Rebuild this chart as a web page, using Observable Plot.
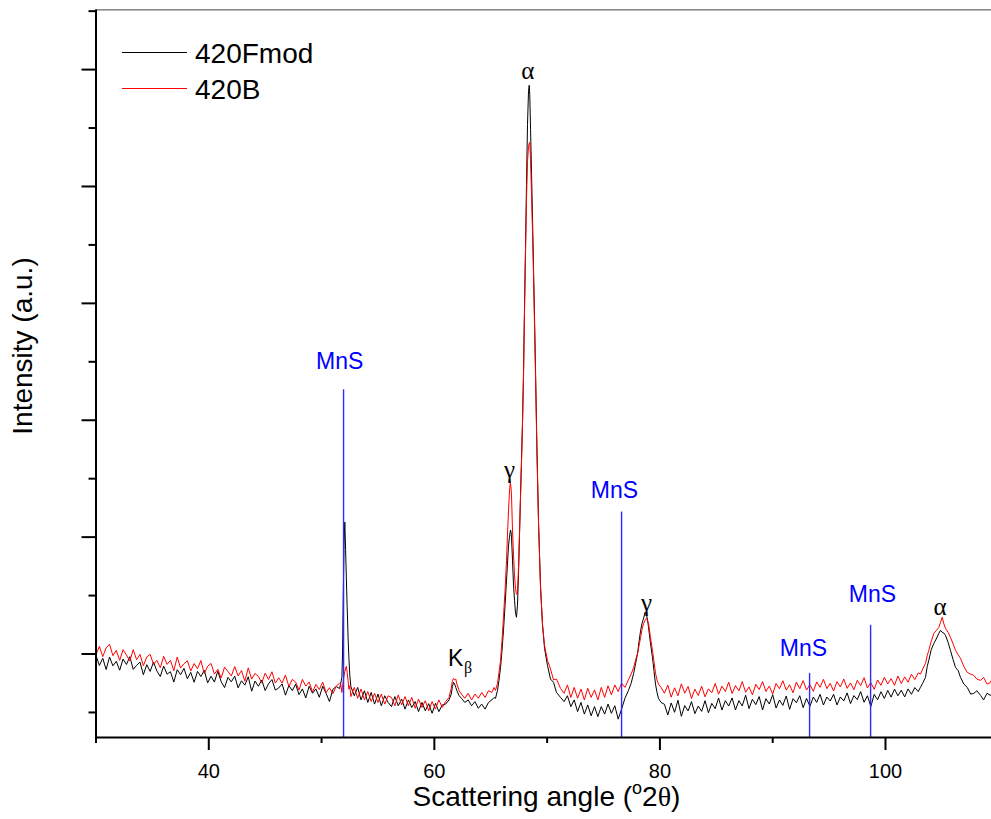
<!DOCTYPE html>
<html><head><meta charset="utf-8">
<script src="https://cdn.jsdelivr.net/npm/d3@7"></script>
<script src="https://cdn.jsdelivr.net/npm/@observablehq/plot@0.6"></script>
<style>
body{margin:0;background:#fff;}
#chart{width:991px;height:819px;}
</style>
</head><body><div id="chart"></div>
<script>
// Scattering angle (°2θ) sampling
const angle = [
 30.0,30.3,30.6,30.9,31.2,31.5,31.8,32.1,32.4,32.7,
 33.0,33.3,33.6,33.9,34.2,34.5,34.8,35.1,35.4,35.7,
 36.0,36.3,36.6,36.9,37.2,37.5,37.8,38.1,38.4,38.7,
 39.0,39.3,39.6,39.9,40.2,40.5,40.8,41.1,41.4,41.7,
 42.0,42.3,42.6,42.9,43.2,43.5,43.8,44.1,44.4,44.7,
 45.0,45.3,45.6,45.9,46.2,46.5,46.8,47.1,47.4,47.7,
 48.0,48.3,48.6,48.9,49.2,49.5,49.8,50.1,50.4,50.7,
 51.0,51.3,51.6,
 51.7,51.8,51.86,51.92,51.99,52.06,52.13,52.2,52.27,52.35,52.42,52.5,
 52.6,52.9,53.2,53.5,53.8,54.1,54.4,54.7,55.0,55.3,
 55.6,55.9,56.2,56.5,56.8,57.1,57.4,57.7,58.0,58.3,
 58.6,58.9,59.2,59.5,59.8,60.1,60.4,60.7,61.0,61.3,
 61.5,61.6,61.7,61.8,61.9,62.0,62.2,62.4,62.7,63.0,63.3,63.6,63.9,64.2,64.5,64.8,65.1,65.3,
 65.42,65.6,65.73,65.87,66.0,66.13,66.27,66.4,66.5,66.58,
 66.66,66.71,66.75,66.8,66.84,66.93,67.02,67.11,67.19,67.28,
 67.37,67.46,67.55,67.64,67.73,67.82,67.91,67.99,68.08,68.17,
 68.26,68.35,68.41,68.46,68.53,68.62,68.71,68.8,68.89,68.98,
 69.1,69.24,69.41,69.59,69.77,70.03,70.3,70.57,70.83,71.19,
 71.5,71.8,72.1,72.4,72.7,73.0,73.3,73.6,73.9,74.2,
 74.5,74.8,75.1,75.4,75.7,76.0,76.3,76.6,76.9,77.2,
 77.45,77.67,77.85,78.02,78.15,78.29,78.42,78.56,78.68,78.81,
 78.9,78.99,79.15,79.34,79.48,79.61,79.74,79.87,80.1,
 80.4,80.7,81.0,81.3,81.6,81.9,82.2,82.5,82.8,83.1,
 83.4,83.7,84.0,84.3,84.6,84.9,85.2,85.5,85.8,86.1,
 86.4,86.7,87.0,87.3,87.6,87.9,88.2,88.5,88.8,89.1,
 89.4,89.7,90.0,90.3,90.6,90.9,91.2,91.5,91.8,92.1,
 92.4,92.7,93.0,93.3,93.6,93.9,94.2,94.5,94.8,95.1,
 95.4,95.7,96.0,96.3,96.6,96.9,97.2,97.5,97.8,98.1,
 98.4,98.7,99.0,99.3,99.6,99.9,100.2,100.5,100.8,101.1,
 101.4,101.7,102.0,102.3,102.6,102.9,
 103.1,103.3,103.55,103.7,103.84,104.05,104.29,104.5,104.73,104.88,
 105.03,105.18,105.32,105.55,105.76,106.0,106.21,106.45,106.65,106.95,
 107.25,107.55,107.83,108.1,108.43,108.7,109.0,109.31,109.4
];
// 420Fmod intensity (counts)
const fmod = [
 980,863,949,814,964,858,912,806,940,874,
 968,816,864,904,752,872,792,902,796,730,
 856,758,788,664,812,752,828,704,780,662,
 792,730,804,654,734,664,794,668,598,720,
 667,735,595,679,627,727,554,676,614,688,
 562,644,694,568,593,642,507,622,562,638,
 514,582,474,614,530,582,482,614,530,430,
 577,611,586,
 650,720,1000,1700,2300,2580,2250,1900,1560,1200,960,750,
 610,500,600,450,560,420,540,400,520,380,
 500,420,370,490,380,460,340,450,360,430,
 310,420,320,405,290,410,310,390,400,450,
 520,610,660,640,600,560,500,470,420,450,380,430,350,400,340,420,450,480,
 468,564,684,840,1044,1284,1584,1884,2124,2304,
 2400,2448,2484,2460,2400,2124,1824,1644,1500,1440,
 1584,1944,2424,2904,3348,3804,4404,5124,5844,6624,
 7344,7740,7812,7704,7284,6744,6180,5580,4980,4344,
 3444,2580,1812,1344,1068,864,700,660,540,480,
 430,500,370,450,310,420,280,390,260,370,
 250,370,280,400,290,380,220,340,470,560,
 650,768,890,1008,1150,1284,1370,1430,1500,1470,
 1410,1320,1140,960,790,640,540,470,420,
 398,270,414,302,446,254,382,318,430,286,
 377,313,441,297,409,345,473,329,441,377,
 474,330,442,378,506,346,458,394,490,330,
 465,401,513,353,449,385,497,337,465,417,
 501,357,469,373,485,421,517,389,485,437,
 518,390,486,438,534,406,502,454,550,422,
 500,370,516,452,548,468,564,484,580,500,
 566,486,582,518,598,550,
 600,650,720,850,924,1050,1128,1180,1248,1284,
 1260,1250,1224,1140,1044,930,840,800,720,640,
 600,520,528,560,504,450,530,504,520
];
// 420B intensity (counts)
const b420 = [
 992,1092,968,1074,1116,980,1044,924,1052,988,
 916,1052,932,996,860,964,996,876,924,836,
 972,876,924,800,964,832,884,920,796,886,
 824,922,764,854,887,760,817,714,843,790,
 737,850,738,802,674,834,699,767,731,655,
 771,695,787,652,716,652,748,610,696,664,
 568,696,616,664,546,636,574,664,538,596,
 524,614,650,
 640,540,600,680,740,790,830,852,780,680,580,620,
 490,600,470,580,450,550,430,530,420,520,
 400,500,480,380,510,390,490,380,480,350,
 460,360,440,320,430,340,450,360,430,480,
 590,680,708,690,700,640,560,520,470,530,450,520,470,540,480,560,540,600,
 564,648,780,924,1164,1440,1764,2124,2484,2724,
 2940,3024,3048,2988,2904,2484,2184,1944,1788,1716,
 1728,2028,2448,2880,3300,3780,4332,5052,5772,6444,
 6900,7080,7116,7128,6924,6468,6024,5484,4884,4248,
 3384,2544,1824,1356,1104,924,820,690,700,588,
 530,630,480,600,470,580,450,590,480,570,
 450,600,480,620,510,630,550,650,600,690,
 760,840,930,1008,1100,1200,1300,1368,1400,1428,
 1400,1368,1210,1044,900,770,690,640,600,
 531,627,483,595,499,643,531,611,467,579,
 503,615,487,583,535,647,519,615,551,663,
 526,622,558,670,542,606,510,638,574,670,
 552,616,520,648,584,680,568,632,536,664,
 585,681,569,633,553,665,601,697,585,649,
 557,669,605,701,589,653,573,685,621,717,
 593,657,577,689,625,721,641,705,625,737,
 646,726,662,758,694,774,
 760,820,888,980,1044,1150,1248,1280,1320,1380,
 1440,1360,1308,1260,1200,1120,1044,990,948,850,
 780,760,744,700,684,720,640,660,690
];
const seriesNames = ["420Fmod", "420B"];
const seriesColors = ["#000000", "#ff0000"];

// MnS reference lines
const mnsAngle = [51.95, 76.6, 93.27, 98.68];
const mnsTop = [4164, 2700, 768, 1344];
const mnsLabelAngle = [51.6, 75.97, 92.73, 98.85];
const mnsLabelY = [4500, 2952, 1068, 1716];

// Peak labels (baseline positions)
const peakText = ["α", "γ", "γ", "α"];
const peakAngle = [68.29, 66.67, 78.81, 104.84];
const peakY = [7884, 3108, 1512, 1464];
const kbAngle = [61.88];
const kbY = [852];
const kbSubAngle = [62.98];
const kbSubY = [768];

// Ticks
const xMajorTicks = [40, 60, 80, 100];
const xMinorTicks = [30, 50, 70, 90];
const yMajorTicks = [1000, 2400, 3800, 5200, 6600, 8000];
const yMinorTicks = [300, 1700, 3100, 4500, 5900, 7300, 8700];

const n = Math.min(angle.length, fmod.length, b420.length);
if (angle.length !== fmod.length || angle.length !== b420.length) console.warn("length mismatch", angle.length, fmod.length, b420.length);
const data = d3.range(n).map(i => ({angle: angle[i], fmod: fmod[i], b: b420[i]}));
const mns = mnsAngle.map((a, i) => ({angle: a, top: mnsTop[i], lx: mnsLabelAngle[i], ly: mnsLabelY[i]}));
const peaks = peakText.map((t, i) => ({t, x: peakAngle[i], y: peakY[i]}));

const sans = "'Liberation Sans', Arial, Helvetica, sans-serif";
const serif = "'Liberation Serif', 'Times New Roman', serif";

const chart = Plot.plot({
  width: 991, height: 819,
  marginTop: 9.4, marginBottom: 82, marginLeft: 95.5, marginRight: 0,
  style: {fontFamily: sans, fontSize: "20px", background: "#fff", color: "#000", overflow: "visible"},
  x: {domain: [30, 109.4]},
  y: {domain: [0, 8715]},
  marks: [
    Plot.axisX({ticks: xMajorTicks, tickSize: 13, tickPadding: 13, strokeWidth: 2, label: null, tickFormat: d => String(d)}),
    Plot.axisX({ticks: xMinorTicks, tickSize: 6, strokeWidth: 2, label: null, tickFormat: () => ""}),
    Plot.axisY({ticks: yMajorTicks, tickSize: 14, strokeWidth: 2, label: null, tickFormat: () => ""}),
    Plot.axisY({ticks: yMinorTicks, tickSize: 7, strokeWidth: 2, label: null, tickFormat: () => ""}),
    Plot.ruleY([8715], {stroke: "#444", strokeWidth: 1}),
    Plot.line(data, {x: "angle", y: "fmod", stroke: seriesColors[0], strokeWidth: 1}),
    Plot.line(data, {x: "angle", y: "b", stroke: seriesColors[1], strokeWidth: 1}),
    Plot.ruleX(mns, {x: "angle", y1: 0, y2: "top", stroke: "#2b2bff", strokeWidth: 1.4}),
    Plot.text(mns, {x: "lx", y: "ly", text: () => "MnS", fill: "#0000ff", fontSize: 23, lineAnchor: "middle", textAnchor: "middle"}),
    Plot.text(peaks, {x: "x", y: "y", text: "t", fontFamily: serif, fontSize: 25, lineAnchor: "bottom", textAnchor: "middle", fill: "#000"}),
    Plot.text(kbAngle, {x: d => d, y: (d, i) => kbY[i], text: () => "K", fontSize: 23, lineAnchor: "bottom", textAnchor: "middle", fill: "#000"}),
    Plot.text(kbSubAngle, {x: d => d, y: (d, i) => kbSubY[i], text: () => "β", fontFamily: serif, fontSize: 16, lineAnchor: "bottom", textAnchor: "middle", fill: "#000"}),
    Plot.ruleX([30], {stroke: "#000", strokeWidth: 2}),
    Plot.ruleY([0], {stroke: "#000", strokeWidth: 2})
  ]
});

document.getElementById("chart").appendChild(chart);

const svg = d3.select(chart);
// Legend
const leg = svg.append("g").attr("font-family", sans).attr("font-size", 28).attr("text-anchor", "start");
seriesNames.forEach((name, i) => {
  const y = 52.5 + i * 36;
  leg.append("line").attr("x1", 122).attr("x2", 187).attr("y1", y).attr("y2", y)
    .attr("stroke", seriesColors[i]).attr("stroke-width", 1.2);
  leg.append("text").attr("x", 195).attr("y", y + 10.5).attr("text-anchor", "start").attr("fill", "#000").text(name);
});
// X axis title
const xt = svg.append("text").attr("x", 546.5).attr("y", 806).attr("text-anchor", "middle")
  .attr("font-family", sans).attr("font-size", 28).attr("fill", "#000");
xt.append("tspan").text("Scattering angle (");
xt.append("tspan").attr("font-size", 18).attr("dy", -12).text("o");
xt.append("tspan").attr("dy", 12).text("2");
xt.append("tspan").attr("font-family", serif).text("θ");
xt.append("tspan").text(")");
// Y axis title
svg.append("text").attr("transform", "translate(32,346) rotate(-90)").attr("text-anchor", "middle")
  .attr("font-family", sans).attr("font-size", 28).attr("fill", "#000").text("Intensity (a.u.)");
</script>
</body></html>
